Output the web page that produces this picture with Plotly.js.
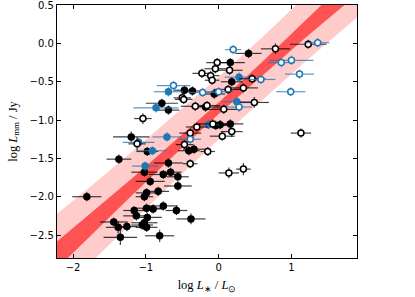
<!DOCTYPE html>
<html>
<head>
<meta charset="utf-8">
<script src="https://cdn.plot.ly/plotly-3.0.1.min.js"></script>
<style>html,body{margin:0;padding:0;background:#fff;}#plot{width:415px;height:297px;}</style>
</head>
<body>
<div id="plot"></div>
<script>
// Regression band edges
const bandX      = [-2.4, -1.8, -1.2, -0.6, 0.0, 0.6, 1.2, 1.8, 2.1];
const darkLo     = [-3.10, -2.55, -1.99, -1.45, -0.92, -0.42, 0.08, 0.56, 0.80];
const darkHi     = [-2.73, -2.25, -1.77, -1.27, -0.77, -0.24, 0.30, 0.86, 1.13];
const pinkLo     = [-3.46, -2.90, -2.34, -1.79, -1.255, -0.74, -0.23, 0.26, 0.50];
const pinkHi     = [-2.36, -1.90, -1.42, -0.93, -0.435, 0.08, 0.61, 1.16, 1.44];

// Filled black points
const bfX  = [-0.47,-0.36,-0.06,-0.78,-0.69,-0.18,-0.04,-1.20,0.41,0.16,0.18,0.02,0.16,-0.98,-0.41,-0.34,-1.37,-0.69,-1.02,-0.76,-0.66,-0.56,-0.94,-0.56,-0.83,-1.81,-0.99,-1.02,-0.99,-0.76,-0.90,-0.58,-1.16,-1.13,-0.98,-0.38,-1.02,-1.44,-1.05,-1.38,-1.26,-0.99,-0.81,-1.35];
const bfY  = [-0.61,-0.62,-0.66,-0.78,-0.87,-0.83,-1.07,-1.22,-0.13,-0.25,-0.50,-1.06,-1.05,-1.41,-1.40,-1.38,-1.51,-1.56,-1.68,-1.71,-1.68,-1.74,-1.80,-1.86,-1.93,-2.00,-1.95,-2.00,-2.15,-2.12,-2.16,-2.18,-2.18,-2.25,-2.27,-2.29,-2.34,-2.33,-2.37,-2.40,-2.39,-2.40,-2.51,-2.53];
const bfXe = [0.15,0.12,0.15,0.22,0.15,0.20,0.15,0.25,0.18,0.20,0.15,0.15,0.18,0.15,0.15,0.15,0.17,0.20,0.18,0.20,0.15,0.15,0.20,0.19,0.15,0.20,0.15,0.12,0.20,0.20,0.15,0.15,0.15,0.18,0.20,0.20,0.18,0.19,0.15,0.17,0.15,0.15,0.20,0.23];
const bfYe = [0.06,0.06,0.06,0.06,0.06,0.06,0.06,0.07,0.06,0.06,0.06,0.06,0.06,0.06,0.06,0.06,0.06,0.06,0.06,0.06,0.06,0.06,0.06,0.06,0.06,0.06,0.06,0.06,0.06,0.06,0.06,0.06,0.06,0.06,0.06,0.07,0.06,0.06,0.06,0.08,0.06,0.06,0.08,0.10];

// Open black points
const boX  = [-0.02,-0.045,-0.23,-0.11,-0.09,-0.50,-0.48,-0.32,-0.16,-1.04,-0.30,-0.39,1.23,0.78,0.15,0.46,0.34,0.13,0.49,0.07,-0.08,0.18,0.05,1.13,-1.12,-0.47,-0.15,-0.39,0.14,0.34];
const boY  = [-0.25,-0.33,-0.39,-0.42,-0.48,-0.71,-0.73,-0.82,-0.81,-0.98,-1.09,-1.17,-0.01,-0.07,-0.35,-0.46,-0.58,-0.60,-0.77,-0.86,-1.05,-1.15,-1.21,-1.17,-1.31,-1.32,-1.41,-1.57,-1.69,-1.64];
const boXe = [0.15,0.15,0.13,0.12,0.10,0.12,0.12,0.20,0.18,0.12,0.15,0.15,0.25,0.20,0.18,0.18,0.20,0.20,0.20,0.25,0.20,0.15,0.17,0.14,0.12,0.12,0.10,0.10,0.14,0.10];
const boYe = [0.06,0.06,0.06,0.06,0.06,0.06,0.06,0.06,0.06,0.07,0.06,0.06,0.06,0.07,0.06,0.06,0.06,0.06,0.07,0.06,0.06,0.07,0.06,0.06,0.09,0.06,0.06,0.06,0.07,0.08];

// Filled blue points
const ufX  = [-0.69,-0.86,-0.14,-0.71,0.28,0.25,-1.10,-0.91,-1.01];
const ufY  = [-0.63,-0.84,-1.06,-1.22,-0.44,-0.76,-1.29,-1.40,-1.60];
const ufXe = [0.20,0.31,0.15,0.20,0.20,0.20,0.22,0.20,0.18];
const ufYe = [0.06,0.06,0.06,0.06,0.06,0.06,0.06,0.06,0.06];

// Open blue points
const uoX  = [-0.62,-0.22,1.36,0.20,0.86,1.00,1.11,0.58,0.99,0.00,0.28,-0.39];
const uoY  = [-0.55,-0.64,0.01,-0.08,-0.25,-0.22,-0.40,-0.47,-0.63,-0.63,-0.83,-1.25];
const uoXe = [0.23,0.20,0.16,0.11,0.18,0.30,0.20,0.20,0.20,0.20,0.18,0.15];
const uoYe = [0.06,0.06,0.06,0.06,0.06,0.06,0.06,0.06,0.06,0.06,0.06,0.06];

const yTickVals = [0.5, 0.0, -0.5, -1.0, -1.5, -2.0, -2.5];
const xTickVals = [-2, -1, 0, 1];

const BLUE = '#1f77b4';

function band(lo, hi, color) {
  return {
    x: bandX.concat(bandX.slice().reverse()),
    y: hi.concat(lo.slice().reverse()),
    type: 'scatter', mode: 'lines', fill: 'toself',
    fillcolor: color, line: {width: 0}, hoverinfo: 'skip', showlegend: false
  };
}
function pts(x, y, xe, ye, fill, edge, ecol) {
  return {
    x: x, y: y, type: 'scatter', mode: 'markers', showlegend: false,
    error_x: {type: 'data', array: xe, color: ecol, thickness: 1.2, width: 0},
    error_y: {type: 'data', array: ye, color: ecol, thickness: 1.2, width: 0},
    marker: {size: 6, color: fill, line: {color: edge, width: 1.5}}
  };
}

const data = [
  band(pinkLo, pinkHi, '#ffcccc'),
  band(darkLo, darkHi, '#ff5252'),
  pts(bfX, bfY, bfXe, bfYe, '#000000', '#000000', 'rgba(0,0,0,0.75)'),
  pts(ufX, ufY, ufXe, ufYe, BLUE, BLUE, 'rgba(31,119,180,0.75)'),
  pts(boX, boY, boXe, boYe, '#ffffff', '#000000', 'rgba(0,0,0,0.75)'),
  pts(uoX, uoY, uoXe, uoYe, '#ffffff', BLUE, 'rgba(31,119,180,0.75)')
];

const axisCommon = {
  showline: true, mirror: 'ticks', linecolor: '#000', linewidth: 1.2,
  ticks: 'inside', ticklen: 4, tickwidth: 1, tickcolor: '#000',
  showgrid: false, zeroline: false, ticklabeloverflow: 'allow',
  tickfont: {family: 'DejaVu Sans', size: 10, color: '#000'}
};

const layout = {
  width: 415, height: 297,
  margin: {l: 57, r: 58, t: 5, b: 39},
  paper_bgcolor: '#fff', plot_bgcolor: '#fff',
  xaxis: Object.assign({}, axisCommon, {
    range: [-2.22, 1.9], tickmode: 'array', tickvals: xTickVals,
    title: {text: 'log <i>L</i><sub>∗</sub> / <i>L</i><sub>⊙</sub>', font: {family: 'Liberation Serif', size: 12.5, color: '#000'}, standoff: 8}
  }),
  yaxis: Object.assign({}, axisCommon, {
    range: [-2.8, 0.502], tickmode: 'array', tickvals: yTickVals, tickformat: '.1f',
    title: {text: 'log <i>L</i><sub>mm</sub> / Jy', font: {family: 'Liberation Serif', size: 12.5, color: '#000'}, standoff: 9}
  })
};

Plotly.newPlot('plot', data, layout, {staticPlot: true, displayModeBar: false});
</script>
</body>
</html>
